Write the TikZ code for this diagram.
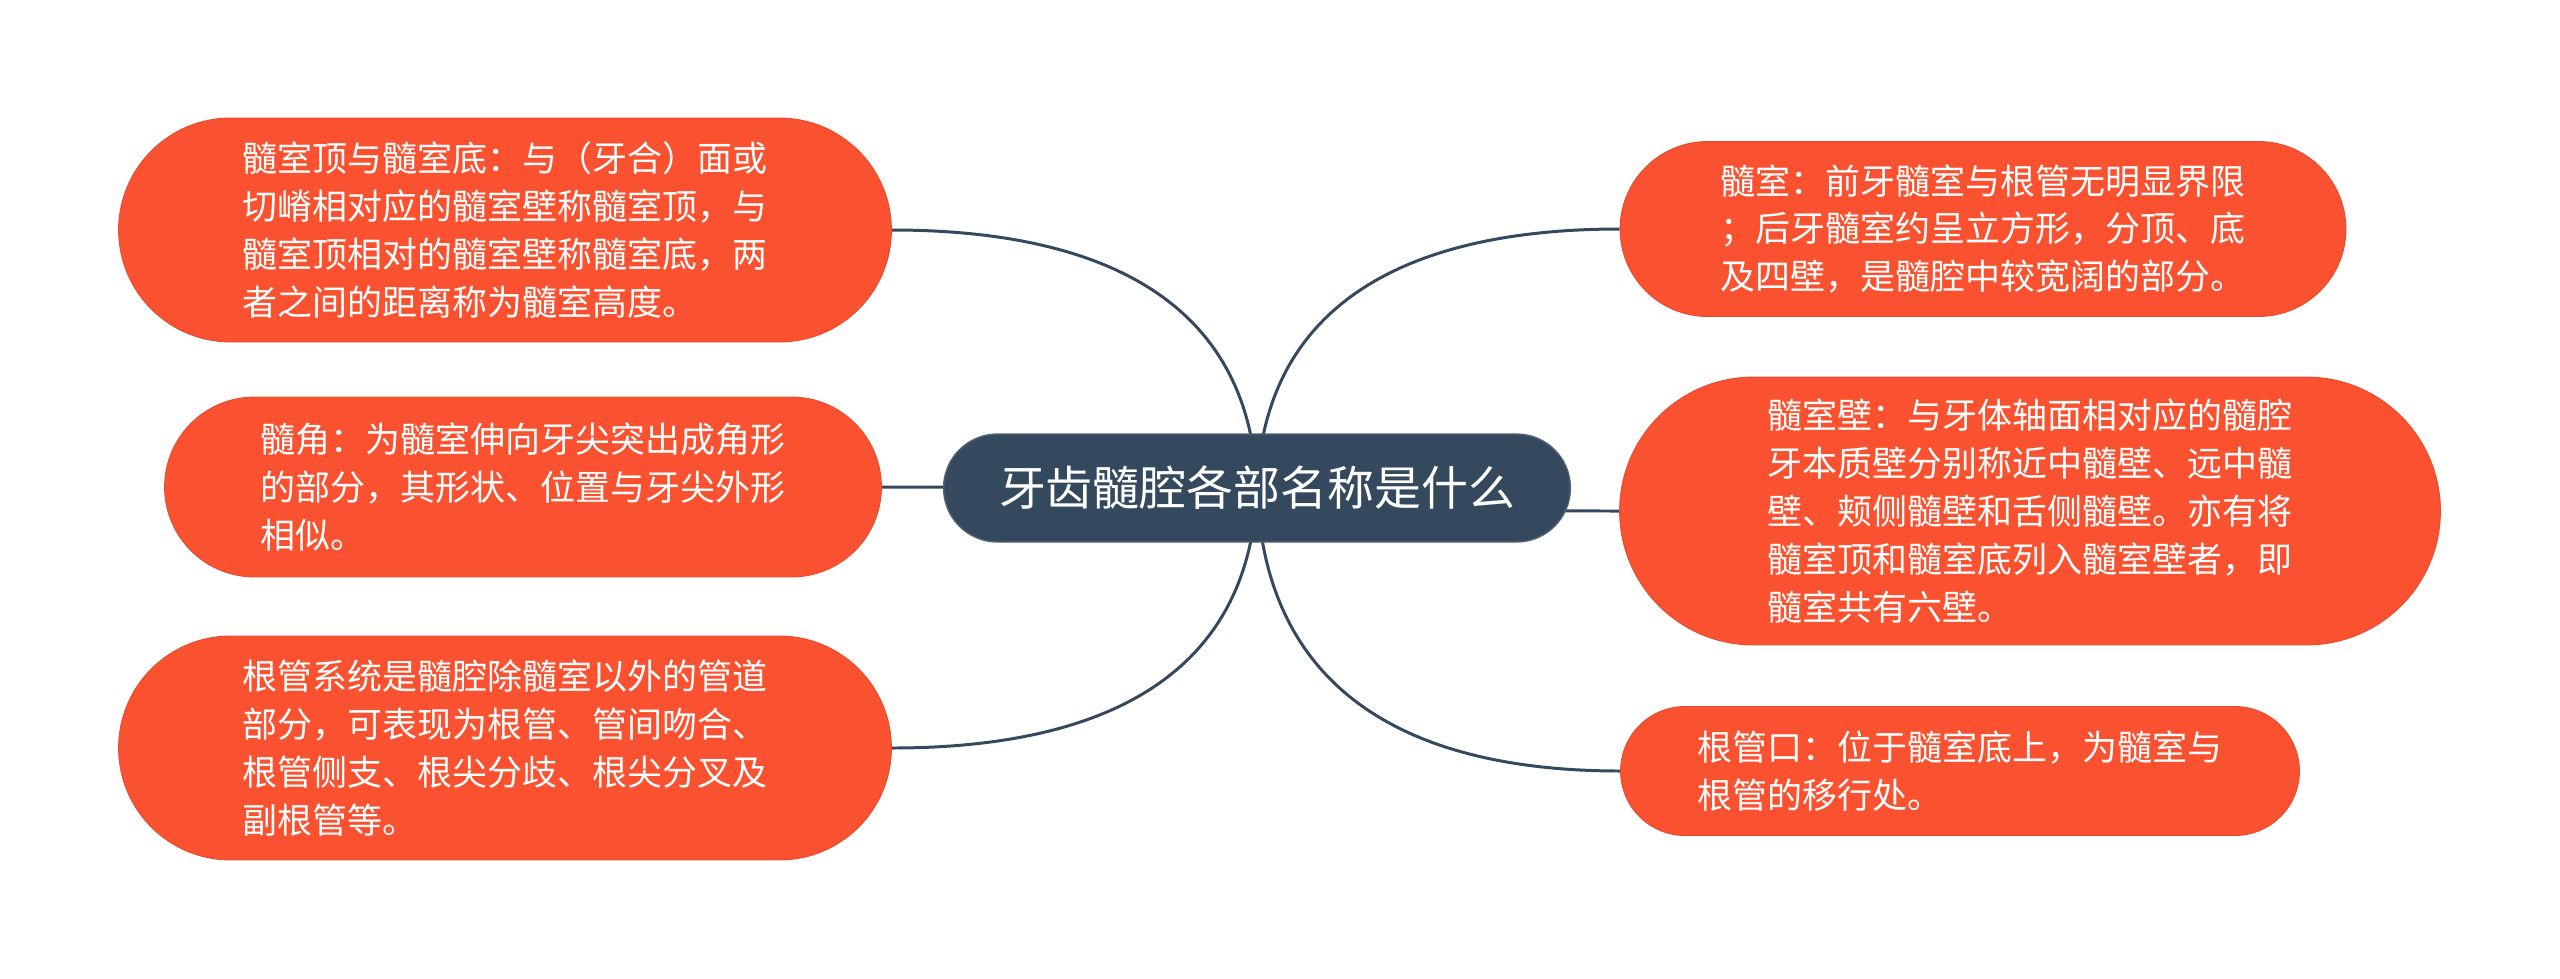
\documentclass[tikz,border=0pt]{standalone}
\usepackage{fontspec}
\setmainfont{Noto Sans CJK SC}
\definecolor{leaforange}{HTML}{FA5230}
\definecolor{rootslate}{HTML}{34495E}
\usetikzlibrary{shapes.misc, backgrounds}

\begin{document}
\begin{tikzpicture}[
  x=0.02cm, y=-0.02cm,
  leaf/.style={rounded rectangle, fill=leaforange, draw=leaforange!92!black, line width=0.5pt, text=white, align=left, inner sep=0pt, font=\fontsize{19.9}{27.3}\selectfont},
  root/.style={rounded rectangle, fill=rootslate, draw=rootslate!85!white, line width=0.8pt, text=white, inner sep=0pt, font=\fontsize{26.7}{30}\selectfont},
  link/.style={draw=rootslate, line width=1.7pt},
]
\useasboundingbox (0,0) rectangle (2560,978);

% Root
\node[root, minimum width=12.54cm, minimum height=2.16cm] (root) at (1257,488) {牙齿髓腔各部名称是什么};

% Left branch
\node[leaf, minimum width=15.46cm, minimum height=4.48cm] (ceiling) at (505,230) {髓室顶与髓室底：与（牙合）面或\\切嵴相对应的髓室壁称髓室顶，与\\髓室顶相对的髓室壁称髓室底，两\\者之间的距离称为髓室高度。};
\node[leaf, minimum width=14.34cm, minimum height=3.6cm] (horn) at (523,487) {髓角：为髓室伸向牙尖突出成角形\\的部分，其形状、位置与牙尖外形\\相似。};
\node[leaf, minimum width=15.46cm, minimum height=4.48cm] (canal) at (505,748) {根管系统是髓腔除髓室以外的管道\\部分，可表现为根管、管间吻合、\\根管侧支、根尖分歧、根尖分叉及\\副根管等。};

% Right branch
\node[leaf, minimum width=14.52cm, minimum height=3.5cm] (chamber) at (1983,229) {髓室：前牙髓室与根管无明显界限\\；后牙髓室约呈立方形，分顶、底\\及四壁，是髓腔中较宽阔的部分。};
\node[leaf, minimum width=16.42cm, minimum height=5.36cm] (wall) at (2030,511) {髓室壁：与牙体轴面相对应的髓腔\\牙本质壁分别称近中髓壁、远中髓\\壁、颊侧髓壁和舌侧髓壁。亦有将\\髓室顶和髓室底列入髓室壁者，即\\髓室共有六壁。};
\node[leaf, minimum width=13.58cm, minimum height=2.58cm] (orifice) at (1960,771) {根管口：位于髓室底上，为髓室与\\根管的移行处。};

% Links
\begin{scope}[on background layer]
\draw[link] (root.center) .. controls +(-7,-188) and +(209,0) .. (ceiling.east);
\draw[link] (root.center) -- (horn.east);
\draw[link] (root.center) .. controls +(-7,190) and +(209,0) .. (canal.east);
\draw[link] (root.center) .. controls +(7,-188) and +(-207,0) .. (chamber.west);
\draw[link] (root.center) .. controls +(7,17) and +(-207,0) .. (wall.west);
\draw[link] (root.center) .. controls +(7,207) and +(-207,0) .. (orifice.west);
\end{scope}
\end{tikzpicture}
\end{document}
